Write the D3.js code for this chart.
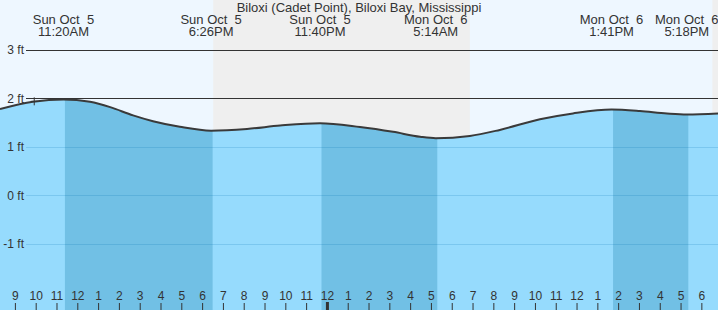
<!DOCTYPE html>
<html>
<head>
<meta charset="utf-8">
<script src="https://cdn.jsdelivr.net/npm/d3@7"></script>
<style>
  html, body { margin: 0; padding: 0; background: #eef7ff; }
  svg { display: block; }
  text { font-family: "Liberation Sans", Arial, sans-serif; fill: #333; }
</style>
</head>
<body>
<svg id="chart" width="718" height="310"></svg>
<script>
// ---- data (hours since midnight Sun Oct 5) ----
const title = "Biloxi (Cadet Point), Biloxi Bay, Mississippi";
const viewHours = [8.284, 42.8];
const sampleHours = [8.284, 9.87, 11.333, 12.61, 13.58, 14.68, 15.64, 16.93, 18.433, 20.16, 21.75, 23.667, 25.59, 27.18, 28.48, 29.233, 30.87, 32.31, 34.24, 35.83, 37.683, 39.05, 40.35, 41.3, 42.8];
const sampleFeet  = [1.78, 1.93, 1.98, 1.93, 1.82, 1.65, 1.53, 1.415, 1.335, 1.37, 1.44, 1.49, 1.41, 1.31, 1.21, 1.18, 1.225, 1.35, 1.57, 1.69, 1.77, 1.74, 1.69, 1.67, 1.69];
const extremeHours = [11.333, 18.433, 23.667, 29.233, 37.683, 41.3];
const extremeTypes = ["H", "L", "H", "L", "H", "L"];
const extremeDays  = ["Sun Oct  5", "Sun Oct  5", "Sun Oct  5", "Mon Oct  6", "Mon Oct  6", "Mon Oct  6"];
const extremeTimes = ["11:20AM", "6:26PM", "11:40PM", "5:14AM", "1:41PM", "5:18PM"];
const nightStarts = [18.533, 42.53];
const nightEnds   = [30.87, 43.5];
const hourTicks  = [9,10,11,12,13,14,15,16,17,18,19,20,21,22,23,24,25,26,27,28,29,30,31,32,33,34,35,36,37,38,39,40,41,42];
const hourLabels = ["9","10","11","12","1","2","3","4","5","6","7","8","9","10","11","12","1","2","3","4","5","6","7","8","9","10","11","12","1","2","3","4","5","6"];
const midnightHours = [24];
const feetTicks  = [3, 2, 1, 0, -1];
const feetLabels = ["3 ft", "2 ft", "1 ft", "0 ft", "-1 ft"];
const nowHour = 9.93;
const nowFeet = 1.94;

// ---- layout ----
const W = 718, H = 310;
const svg = d3.select("#chart");
const x = d3.scaleLinear().domain(viewHours).range([0, W]);
const y = d3.scaleLinear().domain([0, 3]).range([195.3, 50]);

// sky
svg.append("rect").attr("x", 0).attr("y", 0).attr("width", W).attr("height", H).attr("fill", "#eef7ff");
svg.append("g").selectAll("rect").data(nightStarts).join("rect")
  .attr("x", (d) => x(d))
  .attr("y", 0)
  .attr("width", (d, i) => x(nightEnds[i]) - x(d))
  .attr("height", H)
  .attr("fill", "#efefef");

const pts = sampleHours.map((h, i) => [h, sampleFeet[i]]);

// water
const area = d3.area().x(d => x(d[0])).y0(H).y1(d => y(d[1])).curve(d3.curveMonotoneX);
const line = d3.line().x(d => x(d[0])).y(d => y(d[1])).curve(d3.curveMonotoneX);

svg.append("defs").append("clipPath").attr("id", "waterClip")
  .append("path").attr("d", area(pts));

svg.append("path").attr("d", area(pts)).attr("fill", "#96dbfd");

// falling-tide bands (high -> next low)
const falls = [];
extremeHours.forEach((h, i) => {
  if (extremeTypes[i] === "H" && i + 1 < extremeHours.length) falls.push([h, extremeHours[i + 1]]);
});
svg.append("g").attr("clip-path", "url(#waterClip)")
  .selectAll("rect").data(falls).join("rect")
  .attr("x", d => x(d[0]) + 1.5)
  .attr("y", 0)
  .attr("width", d => x(d[1]) - x(d[0]))
  .attr("height", H)
  .attr("fill", "#71c0e5");

// grid lines
svg.append("g").selectAll("line").data(feetTicks).join("line")
  .attr("x1", 26).attr("x2", W)
  .attr("y1", d => Math.round(y(d)) + 0.5).attr("y2", d => Math.round(y(d)) + 0.5)
  .attr("stroke", d => d >= 2 ? "#333" : "rgba(0,110,180,0.18)")
  .attr("stroke-width", 1);

// tide curve
svg.append("path").attr("d", line(pts))
  .attr("fill", "none").attr("stroke", "#3a3a3a").attr("stroke-width", 2);

// now marker
const nx = x(nowHour), ny = y(nowFeet);
svg.append("path")
  .attr("d", `M${nx - 3.5},${ny}H${nx + 3.5}M${nx},${ny - 4}V${ny + 4}`)
  .attr("stroke", "#333").attr("stroke-width", 1).attr("fill", "none");

// y axis labels
const yAxis = d3.axisLeft(y).tickValues(feetTicks)
  .tickFormat((d, i) => feetLabels[i]).tickSize(0).tickPadding(2);
const gy = svg.append("g").attr("transform", "translate(26,0)").call(yAxis);
gy.select(".domain").remove();
gy.selectAll("text").style("font-size", "12px").attr("fill", "#333")
  .style("font-family", '"Liberation Sans", Arial, sans-serif');

// hour axis at bottom (ticks pointing up)
const xAxis = d3.axisTop(x).tickValues(hourTicks)
  .tickFormat((d, i) => hourLabels[i]).tickSize(7).tickPadding(3);
const gx = svg.append("g").attr("transform", `translate(0,${H})`).call(xAxis);
gx.select(".domain").remove();
gx.selectAll(".tick line").attr("stroke", "#333")
  .attr("stroke-width", d => midnightHours.includes(d) ? 3 : 1);
gx.selectAll(".tick").filter(d => midnightHours.includes(d)).select("line").attr("y2", -8);
gx.selectAll("text").style("font-size", "12px").attr("fill", "#333")
  .style("font-family", '"Liberation Sans", Arial, sans-serif');

// extreme labels
const lab = svg.append("g").selectAll("g").data(extremeHours).join("g")
  .attr("transform", d => `translate(${x(d)},0)`);
lab.append("text").attr("y", 24).attr("text-anchor", "middle")
  .style("font-size", "13px").style("white-space", "pre")
  .text((d, i) => extremeDays[i]);
lab.append("text").attr("y", 35.5).attr("text-anchor", "middle")
  .style("font-size", "13px").style("white-space", "pre")
  .text((d, i) => extremeTimes[i]);

// title
svg.append("text").attr("x", 359).attr("y", 11.5).attr("text-anchor", "middle")
  .style("font-size", "13px").text(title);
</script>
</body>
</html>
